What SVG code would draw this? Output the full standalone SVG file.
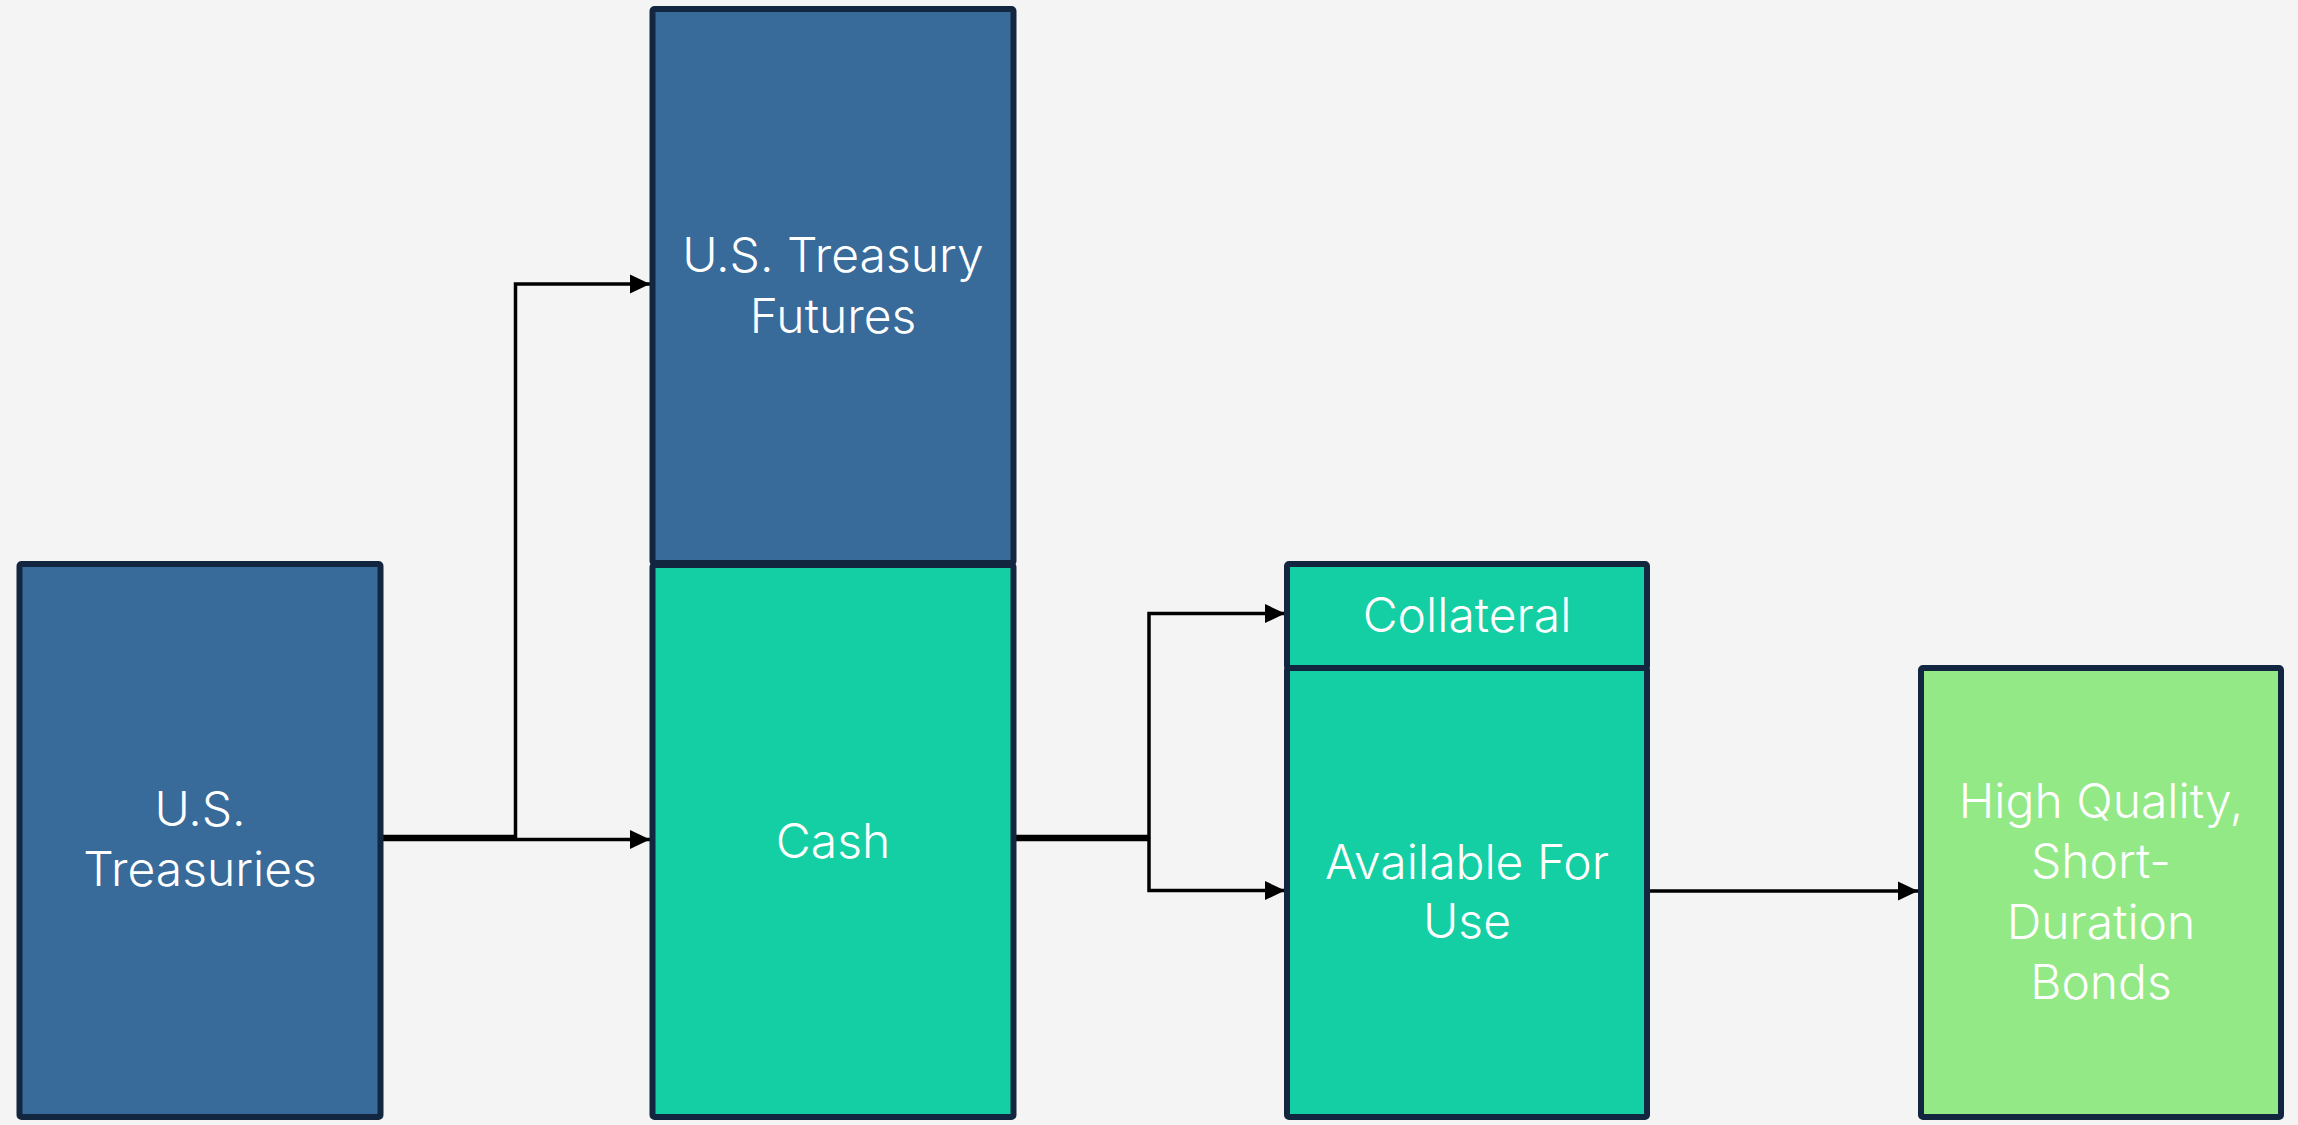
<svg xmlns="http://www.w3.org/2000/svg" width="2298" height="1125" viewBox="0 0 2298 1125">
<defs>
<marker id="arr" markerUnits="userSpaceOnUse" markerWidth="20" markerHeight="20" viewBox="0 0 20 20" refX="20" refY="10" orient="auto">
<path d="M0,0.5 L20,10 L0,19.5 z" fill="#000"/>
</marker>
<style>
.box{stroke:#12263F;stroke-width:6;}
.blue{fill:#386A9A;}
.teal{fill:#13CFA3;}
.green{fill:#93E986;}
.lbl{font-family:Inter,"DejaVu Sans",sans-serif;font-size:48px;font-weight:350;fill:#FFFFFF;text-anchor:middle;}
.con{fill:none;stroke:#000;stroke-width:3.5;}
</style>
</defs>
<rect width="2298" height="1125" fill="#F4F4F4"/>
<g id="connectors">
<path class="con" d="M380,836.5 H515.5 V284 H650" marker-end="url(#arr)"/>
<path class="con" d="M380,839.5 H650" marker-end="url(#arr)"/>
<path class="con" d="M1014,836.5 H1149 V613.5 H1285" marker-end="url(#arr)"/>
<path class="con" d="M1014,839.5 H1149 V890.5 H1285" marker-end="url(#arr)"/>
<path class="con" d="M1647,891 H1918" marker-end="url(#arr)"/>
</g>
<g id="us-treasuries">
<rect class="box blue" x="19.5" y="564" width="361" height="553" rx="2"/>
<text class="lbl" x="200" y="826">U.S.</text>
<text class="lbl" x="200" y="886">Treasuries</text>
</g>
<g id="treasury-futures">
<rect class="box blue" x="652.5" y="9" width="361" height="554" rx="2"/>
<text class="lbl" x="833" y="272">U.S. Treasury</text>
<text class="lbl" x="833" y="333">Futures</text>
</g>
<g id="cash">
<rect class="box teal" x="652.5" y="565" width="361" height="552" rx="2"/>
<text class="lbl" x="833" y="858">Cash</text>
</g>
<g id="collateral">
<rect class="box teal" x="1287" y="564" width="360" height="104" rx="2"/>
<text class="lbl" x="1467" y="632">Collateral</text>
</g>
<g id="available">
<rect class="box teal" x="1287" y="668" width="360" height="449" rx="2"/>
<text class="lbl" x="1467" y="879">Available For</text>
<text class="lbl" x="1467" y="938">Use</text>
</g>
<g id="bonds">
<rect class="box green" x="1921" y="668" width="360" height="449" rx="2"/>
<text class="lbl" x="2101" y="818">High Quality,</text>
<text class="lbl" x="2101" y="878">Short-</text>
<text class="lbl" x="2101" y="939">Duration</text>
<text class="lbl" x="2101" y="999">Bonds</text>
</g>
</svg>
